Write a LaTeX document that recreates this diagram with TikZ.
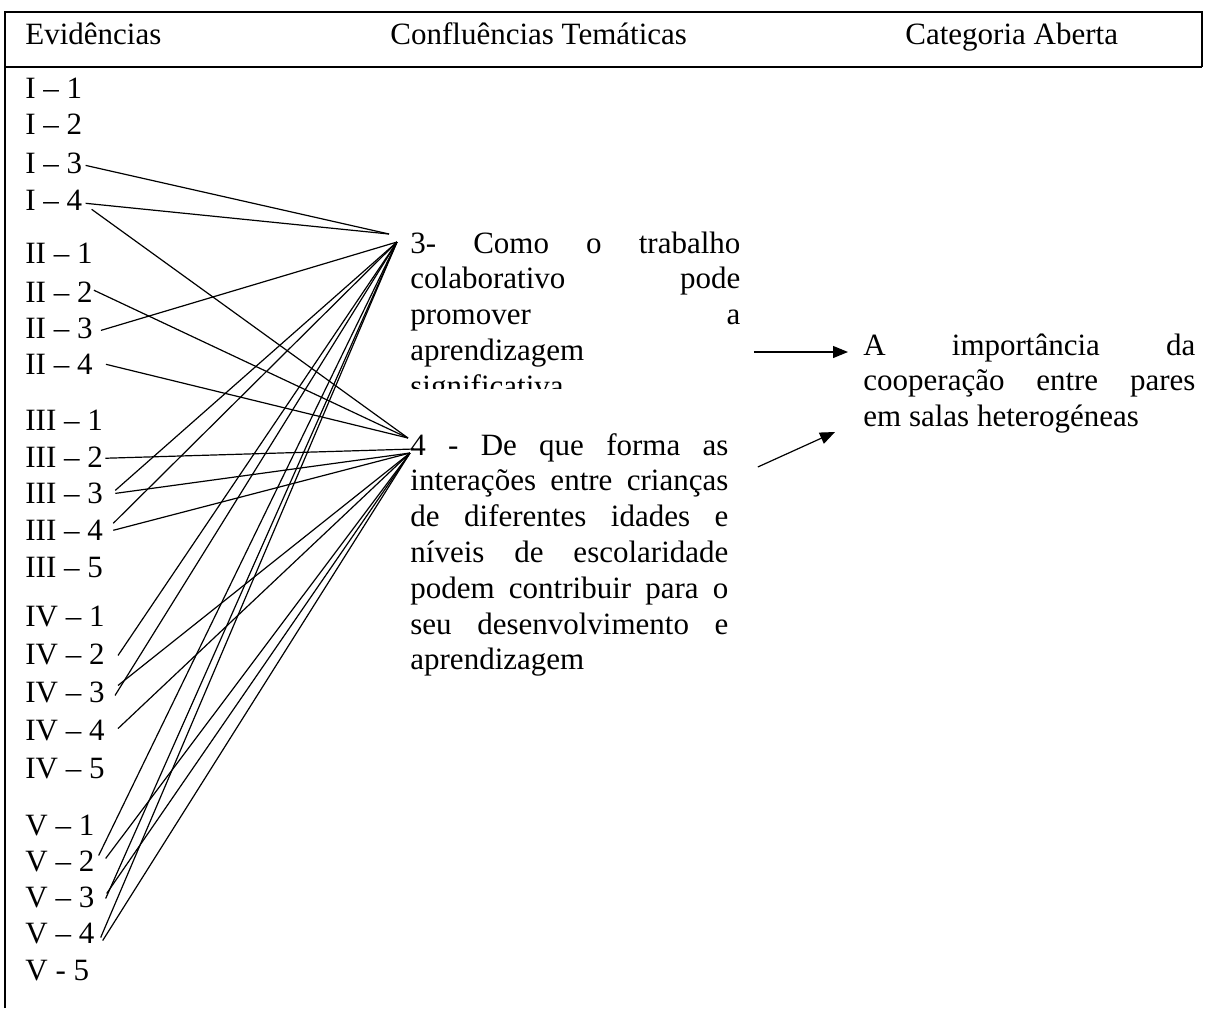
\documentclass[tikz,border=0pt]{standalone}
\usepackage{fontspec}
\setmainfont{Liberation Serif}
\usetikzlibrary{arrows.meta}
\newcommand\jrow[2]{\hbox to #1{#2}}
\begin{document}
\begin{tikzpicture}[x=0.5pt,y=-0.5pt,
  lab/.style={anchor=base west,inner sep=0pt,font=\fontsize{15.5}{17.9}\selectfont},
  con/.style={line width=0.6pt},
  border/.style={line width=1pt,line join=miter},
  arr/.style={line width=0.6pt,-{Triangle[length=7.5pt,width=6pt]}}]
\useasboundingbox (0,0) rectangle (1206,1008);
% table borders
\draw[border] (5,1008) -- (5,12) -- (1202,12) -- (1202,67);
\draw[border] (5,67) -- (1202,67);
% header
\node[lab] (hE) at (25,44) {Evidências};
\node[lab] (hC) at (390,44) {Confluências Temáticas};
\node[lab] (hA) at (905,44) {Categoria Aberta};
% evidence labels
\node[lab] (I1) at (25,98.5) {I \textendash\ 1};
\node[lab] (I2) at (25,134.5) {I \textendash\ 2};
\node[lab] (I3) at (25,173.5) {I \textendash\ 3};
\node[lab] (I4) at (25,210.5) {I \textendash\ 4};
\node[lab] (II1) at (25,263.5) {II \textendash\ 1};
\node[lab] (II2) at (25,302.5) {II \textendash\ 2};
\node[lab] (II3) at (25,338.5) {II \textendash\ 3};
\node[lab] (II4) at (25,374.5) {II \textendash\ 4};
\node[lab] (III1) at (25,430.5) {III \textendash\ 1};
\node[lab] (III2) at (25,467.5) {III \textendash\ 2};
\node[lab] (III3) at (25,503.5) {III \textendash\ 3};
\node[lab] (III4) at (25,540.5) {III \textendash\ 4};
\node[lab] (III5) at (25,577.5) {III \textendash\ 5};
\node[lab] (IV1) at (25,626.5) {IV \textendash\ 1};
\node[lab] (IV2) at (25,664.5) {IV \textendash\ 2};
\node[lab] (IV3) at (25,702.5) {IV \textendash\ 3};
\node[lab] (IV4) at (25,740.5) {IV \textendash\ 4};
\node[lab] (IV5) at (25,778.5) {IV \textendash\ 5};
\node[lab] (V1) at (25,835.5) {V \textendash\ 1};
\node[lab] (V2) at (25,871.5) {V \textendash\ 2};
\node[lab] (V3) at (25,907.5) {V \textendash\ 3};
\node[lab] (V4) at (25,943.5) {V \textendash\ 4};
\node[lab] (V5) at (25,980.5) {V - 5};
% thematic confluences
\begin{scope}
\clip (395,200) rectangle (770,388);
\node[lab] (t3) at (410,253) {\parbox[t]{165pt}{%
   \jrow{165pt}{3-\hfill Como\hfill o\hfill trabalho}
   \jrow{165pt}{colaborativo\hfill pode}
   \jrow{165pt}{promover\hfill a}
   \hbox{aprendizagem}
   \hbox{significativa}}};
\end{scope}
\node[lab] (t4) at (410,455) {\parbox[t]{159pt}{%
   \jrow{159pt}{4\hfill -\hfill De\hfill que\hfill forma\hfill as}
   \jrow{159pt}{interações\hfill entre\hfill crianças}
   \jrow{159pt}{de\hfill diferentes\hfill idades\hfill e}
   \jrow{159pt}{níveis\hfill de\hfill escolaridade}
   \jrow{159pt}{podem\hfill contribuir\hfill para\hfill o}
   \jrow{159pt}{seu\hfill desenvolvimento\hfill e}
   \hbox{aprendizagem}}};
% open category
\node[lab] (tR) at (863,355) {\parbox[t]{166pt}{%
   \jrow{166pt}{A\hfill importância\hfill da}
   \jrow{166pt}{cooperação\hfill entre\hfill pares}
   \hbox{em salas heterogéneas}}};
% hubs
\coordinate (h3a) at (389,234);
\coordinate (h3b) at (397,242);
\coordinate (h4a) at (408,438);
\coordinate (h4m) at (414,449);
\coordinate (h4b) at (410,453);
% connectors to 3
\draw[con] ([shift={(3,2)}]I3.east) -- (h3a);
\draw[con] ([shift={(3,3)}]I4.east) -- (h3a);
\draw[con] ([shift={(8,2)}]II3.east) -- (h3b);
\draw[con] ([shift={(12,-3)}]III3.east) -- (h3b);
\draw[con] ([shift={(10,-7)}]III4.east) -- (h3b);
\draw[con] ([shift={(13,1)}]IV2.east) -- (h3b);
\draw[con] ([shift={(10,3)}]IV3.east) -- (h3b);
\draw[con] ([shift={(4,-6)}]V2.east) -- (h3b);
\draw[con] ([shift={(11,1)}]V3.east) -- (h3b);
\draw[con] ([shift={(6,4)}]V4.east) -- (h3b);
% connectors to 4
\draw[con] ([shift={(9,9)}]I4.east) -- (h4a);
\draw[con] ([shift={(1,-2)}]II2.east) -- (h4a);
\draw[con] ([shift={(13,0)}]II4.east) -- (h4a);
\draw[con] ([shift={(2,1)}]III2.east) -- (h4m);
\draw[con] ([shift={(12,0)}]III3.east) -- (h4b);
\draw[con] ([shift={(10,0)}]III4.east) -- (h4b);
\draw[con] ([shift={(13,-7)}]IV3.east) -- (h4b);
\draw[con] ([shift={(13,-2)}]IV4.east) -- (h4b);
\draw[con] ([shift={(11,-3)}]V2.east) -- (h4b);
\draw[con] ([shift={(12,-4)}]V3.east) -- (h4b);
\draw[con] ([shift={(8,7)}]V4.east) -- (h4b);
% arrows to open category
\draw[arr] ([shift={(13,99)}]t3.base east) -- ([shift={(-15,-3)}]tR.base west);
\draw[arr] ([shift={(29,12)}]t4.base east) -- ([shift={(-28,77)}]tR.base west);
\end{tikzpicture}
\end{document}
